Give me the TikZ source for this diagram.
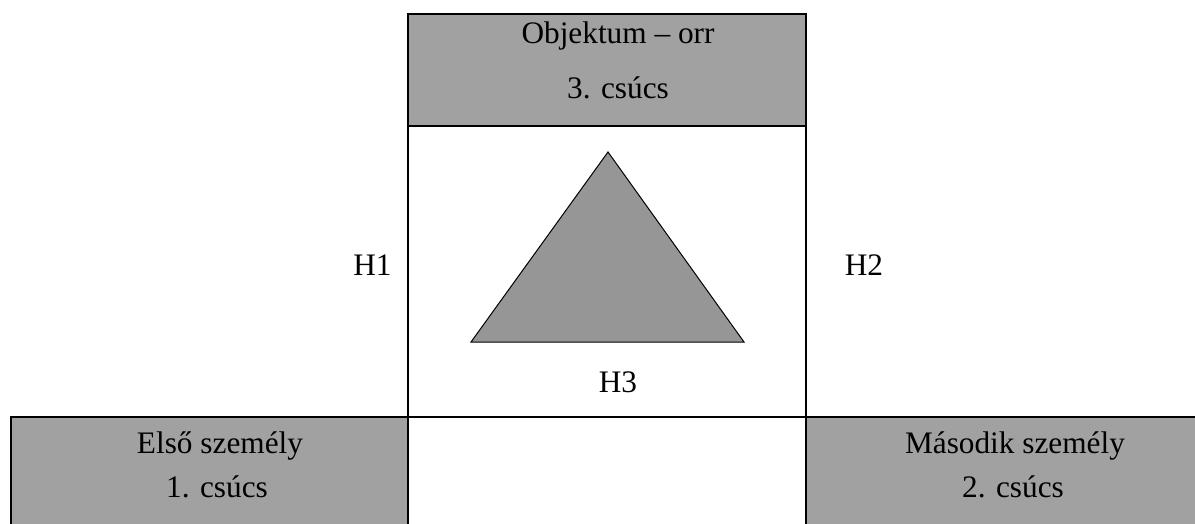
\documentclass[tikz,border=0pt]{standalone}
\usepackage{fontspec}
\setmainfont{Liberation Serif}
\definecolor{boxgray}{gray}{0.63}
\definecolor{trigray}{gray}{0.59}
\tikzset{
  cell/.style={draw=black, line width=2pt},
  lbl/.style={anchor=base, inner sep=0pt, font=\fontsize{31.3}{37}\selectfont},
}
\begin{document}
\begin{tikzpicture}[x=1pt, y=-1pt]
\useasboundingbox (0,0) rectangle (1195,524);
\begin{scope}
\clip (0,0) rectangle (1195,524);
% cells
\draw[cell, fill=boxgray] (408,14) rectangle (806,126);
\draw[cell, fill=white] (408,126) rectangle (806,417);
\draw[cell, fill=boxgray] (11,417) rectangle (408,540);
\draw[cell, fill=boxgray] (806,417) rectangle (1210,540);
\draw[cell] (408,417) -- (408,540);
\draw[cell] (806,417) -- (806,540);
% triangle
\coordinate (apex) at (608,152);
\coordinate (bl) at (471,342);
\coordinate (br) at (744,342);
\draw[fill=trigray, line width=1pt, line join=miter] (apex) -- (br) -- (bl) -- cycle;
\end{scope}
% labels
\node[lbl] (obj) at (618,44) {Objektum – orr};
\node[lbl] (c3) at (618,99) {3. csúcs};
\node[lbl] (elso) at (220,453) {Első személy};
\node[lbl] (c1) at (217,497) {1. csúcs};
\node[lbl] (masodik) at (1015,453) {Második személy};
\node[lbl] (c2) at (1013,497) {2. csúcs};
\node[lbl] (h1) at (372.5,275) {H1};
\node[lbl] (h2) at (864,275) {H2};
\node[lbl] (h3) at (618,392) {H3};
\end{tikzpicture}
\end{document}
